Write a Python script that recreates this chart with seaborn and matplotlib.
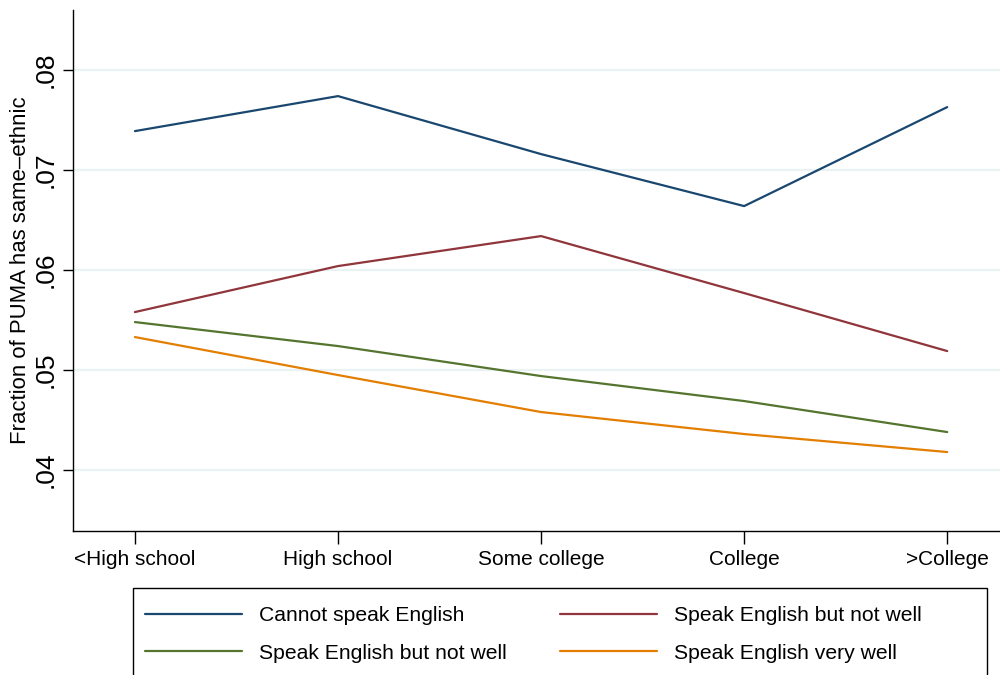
import matplotlib
matplotlib.use("Agg")
import matplotlib.pyplot as plt
from matplotlib.patches import Rectangle
import seaborn as sns
import pandas as pd

# Education categories and fraction of PUMA with same-ethnic residents
education = ["<High school", "High school", "Some college", "College", ">College"]
cannot_speak = [0.0739, 0.0774, 0.0716, 0.0664, 0.0763]
not_well_a = [0.0558, 0.0604, 0.0634, 0.0577, 0.0519]
not_well_b = [0.0548, 0.0524, 0.0494, 0.0469, 0.0438]
very_well = [0.0533, 0.0495, 0.0458, 0.0436, 0.0418]

series_labels = ["Cannot speak English", "Speak English but not well",
                 "Speak English but not well", "Speak English very well"]
series_values = [cannot_speak, not_well_a, not_well_b, very_well]
series_colors = ["#1a476f", "#90353b", "#55752f", "#e37e00"]

y_ticks = [0.04, 0.05, 0.06, 0.07, 0.08]
y_ticklabels = [".04", ".05", ".06", ".07", ".08"]

sns.set_theme(style="white")
plt.rcParams["font.family"] = ["Liberation Sans", "DejaVu Sans"]
plt.rcParams["text.color"] = "black"
plt.rcParams["axes.labelcolor"] = "black"
plt.rcParams["xtick.color"] = "black"
plt.rcParams["ytick.color"] = "black"

fig = plt.figure(figsize=(10, 6.75), dpi=100)
ax = fig.add_axes([0.073, 0.2133, 0.927, 0.7717])

pos = list(range(len(education)))
handles = []
for label, vals, color in zip(series_labels, series_values, series_colors):
    df = pd.DataFrame({"pos": pos, "value": vals})
    sns.lineplot(data=df, x="pos", y="value", ax=ax, color=color,
                 linewidth=1.6, legend=False)
    handles.append(ax.lines[-1])

ax.set_xlim(-0.305, 4.26)
ax.set_ylim(0.0339, 0.0860)
ax.set_xticks(pos)
ax.set_xticklabels(education, fontsize=15)
ax.set_yticks(y_ticks)
ax.set_yticklabels(y_ticklabels, fontsize=19, rotation=90, va="center")
ax.yaxis.grid(True, color="#eaf2f3", linewidth=1.6)
ax.xaxis.grid(False)
ax.set_axisbelow(True)

for side in ["top", "right"]:
    ax.spines[side].set_visible(False)
for side in ["left", "bottom"]:
    ax.spines[side].set_color("black")
    ax.spines[side].set_linewidth(1.0)

ax.tick_params(axis="y", which="major", direction="out", length=7, width=1,
               color="black", left=True, pad=4)
ax.tick_params(axis="x", which="major", direction="out", length=9, width=1,
               color="black", bottom=True, pad=5)

ax.set_xlabel("")
ax.set_ylabel("Fraction of PUMA has same\u2013ethnic", fontsize=15.9, labelpad=2)

# Legend entries filled row by row: blue, red / green, orange
order = [0, 2, 1, 3]
leg = fig.legend([handles[i] for i in order], [series_labels[i] for i in order],
                 loc="upper left", bbox_to_anchor=(0.145, 0.1023),
                 ncol=2, fontsize=15.2, frameon=False,
                 handlelength=4.6, handletextpad=0.8, borderpad=0,
                 labelspacing=0.89, columnspacing=2.53, borderaxespad=0)

fig.add_artist(Rectangle((0.133, -0.02), 0.854, 0.1491, transform=fig.transFigure,
                         fill=False, edgecolor="black", linewidth=1.0))

fig.savefig("out.png", dpi=100)
